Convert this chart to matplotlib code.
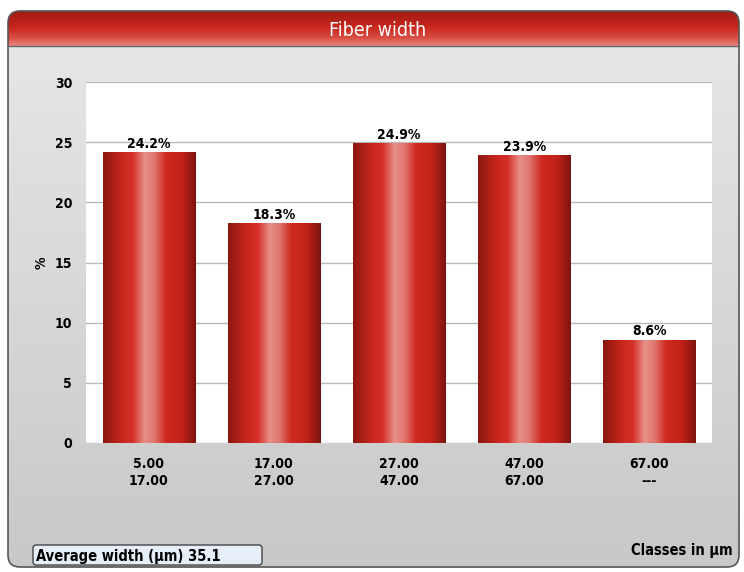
import numpy as np
import matplotlib.pyplot as plt
from matplotlib.patches import FancyBboxPatch
from matplotlib.colors import LinearSegmentedColormap

classes_from = ['5.00', '17.00', '27.00', '47.00', '67.00']
classes_to = ['17.00', '27.00', '47.00', '67.00', '---']
percent = [24.2, 18.3, 24.9, 23.9, 8.6]
yticks = [0, 5, 10, 15, 20, 25, 30]
title = 'Fiber width'
avg_text = 'Average width (\u00b5m) 35.1'
class_text = 'Classes in \u00b5m'

narrow = ['DejaVu Sans']
st = 'condensed'

W, H = 744, 572
fig = plt.figure(figsize=(W / 100, H / 100), dpi=100)
fig.patch.set_facecolor('white')

# background layer in pixel coords
bg = fig.add_axes([0, 0, 1, 1])
bg.set_xlim(0, W)
bg.set_ylim(H, 0)
bg.axis('off')

panel = FancyBboxPatch((8, 11), 731, 556, boxstyle='round,pad=0,rounding_size=12',
                       fc='none', ec='#555555', lw=1.2, zorder=3)
bg.add_patch(panel)
body_cmap = LinearSegmentedColormap.from_list('body', ['#e6e6e6', '#c8c8c8'])
grad = np.linspace(0, 1, 256).reshape(-1, 1)
im = bg.imshow(grad, cmap=body_cmap, extent=[8, 739, 567, 46], aspect='auto', zorder=1)
im.set_clip_path(panel)

head_cmap = LinearSegmentedColormap.from_list(
    'head', [(0, '#a01c14'), (0.45, '#c8261c'), (0.75, '#d84a40'), (1, '#e88880')])
im2 = bg.imshow(grad, cmap=head_cmap, extent=[8, 739, 46, 11], aspect='auto', zorder=2)
im2.set_clip_path(panel)
bg.plot([8, 739], [46, 46], color='#666666', lw=1, zorder=3)
bg.text(378, 30, title, color='white', fontsize=14, ha='center', va='center',
        family=narrow, fontstretch=st, fontweight='light', zorder=4)

# bottom labels
box = FancyBboxPatch((33, 545), 229, 20, boxstyle='round,pad=0,rounding_size=3',
                     fc='#e6eef8', ec='#444444', lw=1, zorder=3)
bg.add_patch(box)
bg.text(36, 556, avg_text, fontsize=10.5, fontweight='bold', family=narrow, fontstretch=st,
        ha='left', va='center', zorder=4)
bg.text(733, 550, class_text, fontsize=10.5, fontweight='bold', family=narrow, fontstretch=st,
        ha='right', va='center', zorder=4)

# plot area
ax = fig.add_axes([86 / W, 1 - 443 / H, (712 - 86) / W, (443 - 82) / H])
ax.set_facecolor('white')
for s in ax.spines.values():
    s.set_visible(False)
ax.set_yticks(yticks)
ax.set_yticklabels([str(t) for t in yticks], fontsize=10, fontweight='bold',
                   family=narrow, fontstretch=st)
ax.tick_params(axis='y', length=0, pad=10)
ax.yaxis.grid(True, color='#b8b8b8', lw=1)
ax.set_axisbelow(True)
ax.set_xticks(range(len(percent)))
ax.set_xticklabels([a + '\n' + b for a, b in zip(classes_from, classes_to)],
                   fontsize=10, fontweight='bold', family=narrow, fontstretch=st,
                   linespacing=1.25)
ax.tick_params(axis='x', length=0, pad=10)
ax.set_ylabel('%', fontsize=10, fontweight='bold', family=narrow, fontstretch=st, labelpad=4)

bar_cmap = LinearSegmentedColormap.from_list(
    'bar', [(0, '#8a1810'), (0.2, '#c8261c'), (0.32, '#d43028'), (0.45, '#e89088'),
            (0.55, '#e07870'), (0.68, '#d02a20'), (0.85, '#c02218'), (1, '#7e140e')])
hgrad = np.linspace(0, 1, 256).reshape(1, -1)
bw = 0.735
bars = ax.bar(range(len(percent)), percent, width=bw, color='none', zorder=2)
for i, (b, v) in enumerate(zip(bars, percent)):
    x0 = b.get_x()
    im3 = ax.imshow(hgrad, cmap=bar_cmap, extent=[x0, x0 + bw, 0, v], aspect='auto', zorder=2)
    im3.set_clip_path(b)
    ax.text(i, v + 0.1, f'{v}%', ha='center', va='bottom', fontsize=10,
            fontweight='bold', family=narrow, fontstretch=st, zorder=3)
ax.set_xlim(-0.5, len(percent) - 0.5)
ax.set_ylim(0, 30)

fig.savefig('out.png', dpi=100)
